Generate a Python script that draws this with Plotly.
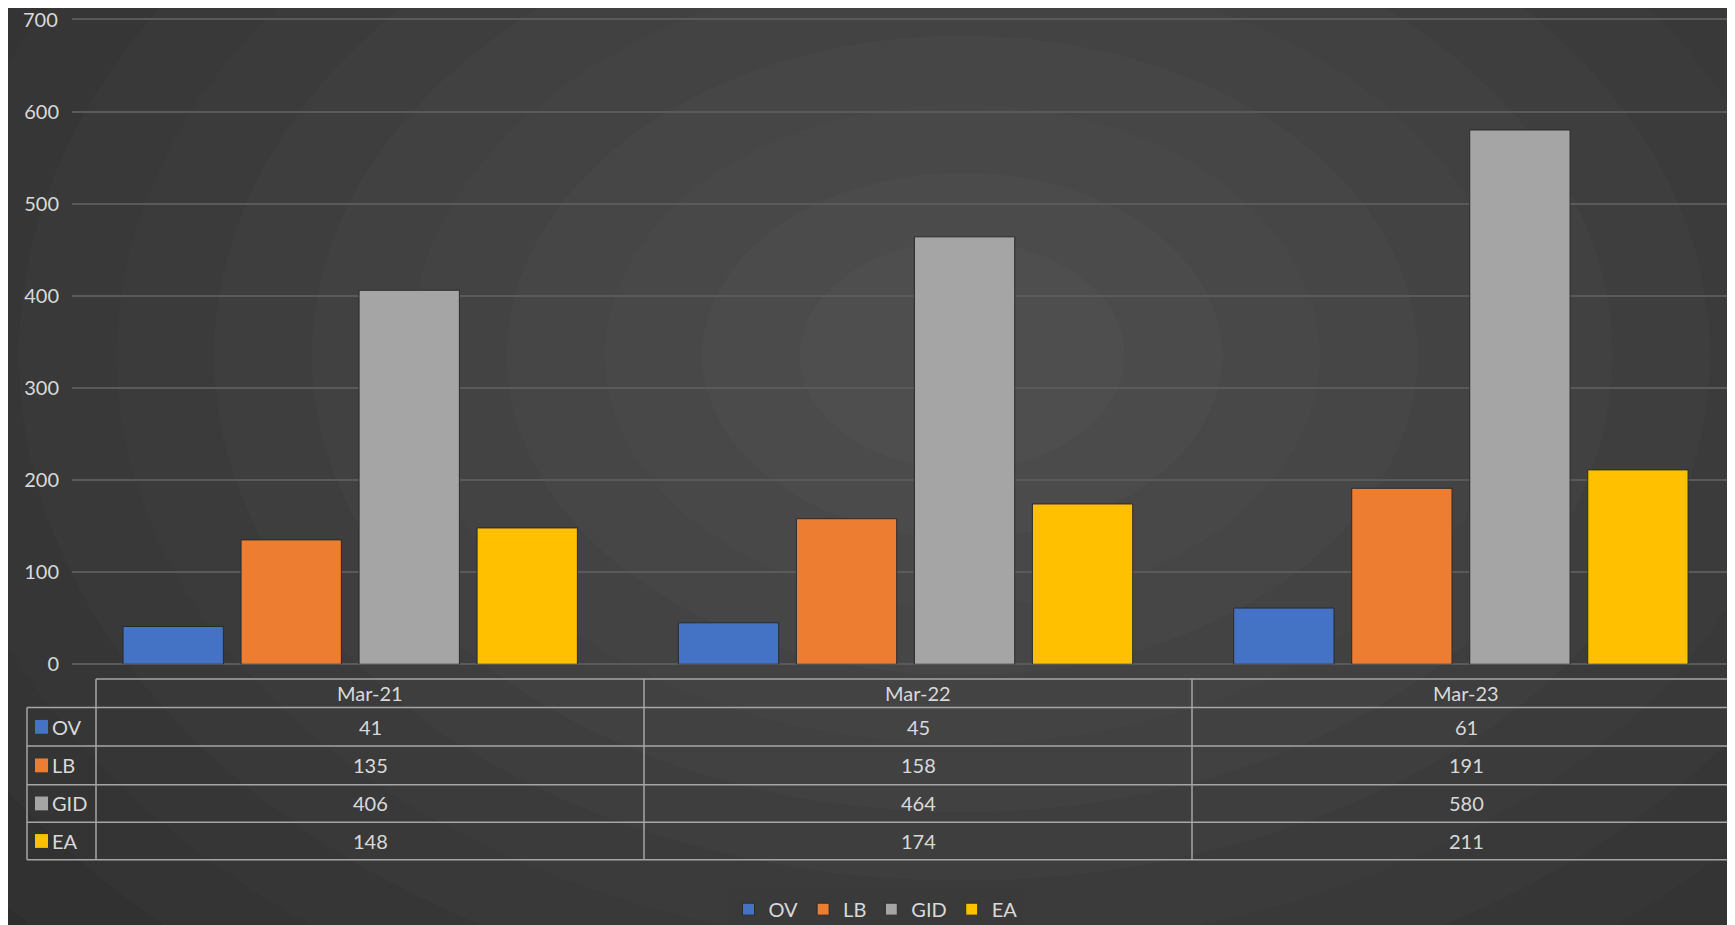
import plotly.graph_objects as go

categories = ["Mar-21", "Mar-22", "Mar-23"]
series_names = ["OV", "LB", "GID", "EA"]
ov = [41, 45, 61]
lb = [135, 158, 191]
gid = [406, 464, 580]
ea = [148, 174, 211]
colors = ["#4472c4", "#ed7d31", "#a5a5a5", "#ffc000"]
y_ticks = [0, 100, 200, 300, 400, 500, 600, 700]

W, H = 1735, 925
FONT = "Lato"
TXT = "#d9d9d9"
DX = -9  # shift of table to the left


def px(x):
    return (x + DX) / W


def py(y):
    return 1 - y / H


fig = go.Figure()
for name, vals, c in zip(series_names, [ov, lb, gid, ea], colors):
    fig.add_trace(go.Bar(x=categories, y=vals, name=name, marker_color=c,
                         marker_line=dict(color="#2a2a2a", width=1)))

shapes = []
# radial-ish background
for i in range(16):
    r = 1.25 - i * 0.075
    g = 0x27 + int(i * 2.6)
    col = f"rgb({g},{g},{g})"
    shapes.append(dict(type="circle", xref="paper", yref="paper", layer="below",
                       x0=0.55 - r * 0.75, x1=0.55 + r * 0.75, y0=0.62 - r, y1=0.62 + r,
                       fillcolor=col, line_width=0))

# data table
line = dict(color="#a6a6a6", width=1.5)
col_x = [97, 645, 1193, 1741]
rows_y = [679, 708, 747, 786, 824, 862]
shapes.append(dict(type="line", xref="paper", yref="paper", x0=px(97), x1=1.01,
                   y0=py(rows_y[0]), y1=py(rows_y[0]), line=line))
for y in rows_y[1:]:
    shapes.append(dict(type="line", xref="paper", yref="paper", x0=px(28), x1=1.01,
                       y0=py(y), y1=py(y), line=line))
for x in col_x[:3]:
    shapes.append(dict(type="line", xref="paper", yref="paper", x0=px(x), x1=px(x),
                       y0=py(rows_y[0]), y1=py(rows_y[-1]), line=line))
shapes.append(dict(type="line", xref="paper", yref="paper", x0=px(28), x1=px(28),
                   y0=py(rows_y[1]), y1=py(rows_y[-1]), line=line))


def cell(x, y, text, anchor="center"):
    return dict(x=x, y=y, text=text, xref="paper", yref="paper", xanchor=anchor,
                yanchor="middle", showarrow=False,
                font=dict(size=20, color=TXT, family=FONT))


annotations = []
for j, cat in enumerate(categories):
    cx = (col_x[j] + col_x[j + 1]) / 2
    annotations.append(cell(px(cx), py((rows_y[0] + rows_y[1]) / 2), cat))
for i, (name, vals, c) in enumerate(zip(series_names, [ov, lb, gid, ea], colors)):
    ym = (rows_y[i + 1] + rows_y[i + 2]) / 2
    shapes.append(dict(type="rect", xref="paper", yref="paper",
                       x0=px(36), x1=px(49), y0=py(ym + 7), y1=py(ym - 7),
                       fillcolor=c, line_width=0))
    annotations.append(cell(px(51), py(ym), name, "left"))
    for j, v in enumerate(vals):
        cx = (col_x[j] + col_x[j + 1]) / 2
        annotations.append(cell(px(cx), py(ym), str(v)))

# top tick label is clipped by plotly at the paper edge, so draw it as text
annotations.append(dict(x=px(73) - 12 / W, y=y_ticks[-1], xref="paper", yref="y",
                        text=str(y_ticks[-1]), xanchor="right", yanchor="middle",
                        showarrow=False, font=dict(size=20, color=TXT, family=FONT)))

fig.update_layout(
    width=W, height=H,
    margin=dict(l=0, r=0, t=0, b=0),
    paper_bgcolor="#3a3a3a", plot_bgcolor="rgba(0,0,0,0)",
    barmode="group", bargap=0.15, bargroupgap=0.15,
    font=dict(family=FONT, color=TXT, size=20),
    shapes=shapes, annotations=annotations,
    legend=dict(orientation="h", x=0.5, xanchor="center", y=py(912), yanchor="middle",
                font=dict(size=20, color=TXT), itemwidth=30, traceorder="normal"),
    xaxis=dict(domain=[px(73), 1], range=[-0.501, 2.508], showticklabels=False,
               showgrid=False, zeroline=False, fixedrange=True),
    yaxis=dict(domain=[0.282, 0.9895], range=[0, 702], tickvals=y_ticks,
               gridcolor="#5a5a5a", gridwidth=1.5, zeroline=True, zerolinecolor="#5a5a5a",
               tickfont=dict(size=20, color=TXT), ticklabelstandoff=12),
)

fig.write_html("out.html")
